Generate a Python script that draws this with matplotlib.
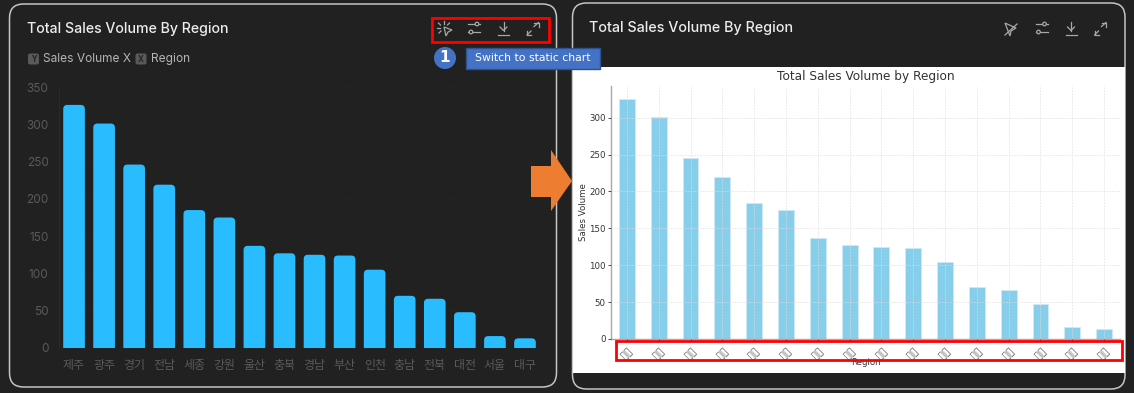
import matplotlib
matplotlib.use("Agg")
import matplotlib.pyplot as plt
from matplotlib.patches import FancyBboxPatch, Rectangle, Polygon, Circle

regions = ["제주", "광주", "경기", "전남", "세종", "강원", "울산", "충북",
           "경남", "부산", "인천", "충남", "전북", "대전", "서울", "대구"]
# the static chart really shows empty boxes instead of the region names
box_labels = ["▯▯"] * 16
sales = [326, 301, 246, 219, 185, 175, 137, 127, 125, 124, 105, 70, 66, 48, 16, 13]
left_ticks = [0, 50, 100, 150, 200, 250, 300, 350]
right_ticks = [0, 50, 100, 150, 200, 250, 300]

W, H = 1134, 393
fig = plt.figure(figsize=(W / 100, H / 100), dpi=100, facecolor="#212121")


def px_axes(x0, y0, x1, y1, **kw):
    # axes box given in picture pixels
    return fig.add_axes([x0 / W, 1 - y1 / H, (x1 - x0) / W, (y1 - y0) / H], **kw)


# background layer, pixel coordinates
bg = px_axes(0, 0, W, H, zorder=0)
bg.set_xlim(0, W)
bg.set_ylim(H, 0)
bg.axis("off")

for x0, y0, x1, y1 in [(9.5, 4, 556.5, 387), (572.5, 3, 1125, 389)]:
    bg.add_patch(FancyBboxPatch((x0, y0), x1 - x0, y1 - y0, boxstyle="round,pad=0,rounding_size=14",
                                fc="#212121", ec="#c4c4c4", lw=1.1))
bg.add_patch(Rectangle((573, 67), 551.5, 306, fc="white", ec="none"))

bg.text(27, 29, "Total Sales Volume By Region", color="#ececec", fontsize=10.2,
        family="Inter", weight="medium", va="center")
bg.text(589, 28, "Total Sales Volume By Region", color="#ececec", fontsize=10.3,
        family="Inter", weight="medium", va="center")

# Y / X chips under the title
for cx, letter in [(33.5, "Y"), (141, "X")]:
    bg.add_patch(FancyBboxPatch((cx - 5.5, 53.5), 11, 11, boxstyle="round,pad=0,rounding_size=2", fc="#5a5a5a", ec="none"))
    bg.text(cx, 59, letter, color="#2a2a2a", fontsize=5.5, weight="bold", ha="center", va="center")
bg.text(43, 59, "Sales Volume X", color="#b4b4b4", fontsize=8.6, family="Inter", va="center")
bg.text(151.5, 59, "Region", color="#b4b4b4", fontsize=8.6, family="Inter", va="center")

# toolbar icons, both panels
icon = "#a8a8a8"
for ox in [0, 567.5]:
    # sliders
    bg.plot([468 + ox, 480 + ox], [24, 24], color=icon, lw=0.9)
    bg.plot([468 + ox, 480 + ox], [32, 32], color=icon, lw=0.9)
    bg.add_patch(Circle((477 + ox, 24), 1.8, fc="#212121", ec=icon, lw=0.9, zorder=3))
    bg.add_patch(Circle((471 + ox, 32), 1.8, fc="#212121", ec=icon, lw=0.9, zorder=3))
    # download
    bg.plot([503.5 + ox, 503.5 + ox], [22, 30.5], color=icon, lw=0.9)
    bg.plot([500 + ox, 503.5 + ox, 507 + ox], [27, 30.5, 27], color=icon, lw=0.9)
    bg.plot([498 + ox, 509 + ox], [34.5, 34.5], color=icon, lw=0.9)
    # expand
    bg.plot([534 + ox, 538.5 + ox], [26.5, 22.5], color=icon, lw=0.9)
    bg.plot([534 + ox, 538.5 + ox, 538.5 + ox], [22.5, 22.5, 27], color=icon, lw=0.9)
    bg.plot([527 + ox, 531 + ox], [35, 31], color=icon, lw=0.9)
    bg.plot([527 + ox, 527 + ox, 531 + ox], [30.5, 35, 35], color=icon, lw=0.9)
# spark + pointer, left panel
for a, b, c, d in [(444, 21, 444, 24), (438.5, 23, 440.5, 25), (437, 28, 440, 28), (439, 33, 441, 31), (449.5, 23, 447.5, 25)]:
    bg.plot([a, c], [b, d], color=icon, lw=0.9)
bg.add_patch(Polygon([(444, 27), (452, 30), (448, 32), (446, 36)], fc="none", ec=icon, lw=0.9))
# crossed pointer, right panel
bg.add_patch(Polygon([(1005, 23), (1016, 28), (1011, 31), (1010, 36)], fc="none", ec=icon, lw=0.9))
bg.plot([1005, 1017], [35, 24], color=icon, lw=0.9)

# interactive chart (left)
ax1 = px_axes(59, 87, 540, 348, zorder=1)
ax1.patch.set_alpha(0)
bars = ax1.bar(range(len(regions)), sales, width=0.72, color="#29bcff")
ax1.set_xlim(-0.5, 15.5)
ax1.set_ylim(0, 350)
# rounded tops: swap every bar for a rounded box of the same size
for b in list(bars):
    x, w, h = b.get_x(), b.get_width(), b.get_height()
    b.set_visible(False)
    ax1.add_patch(FancyBboxPatch((x, -15), w, h + 15, boxstyle="round,pad=0,rounding_size=0.14",
                                 mutation_aspect=40, fc="#29bcff", ec="none"))
ax1.set_yticks(left_ticks)
ax1.set_xticks(range(len(regions)))
ax1.set_xticklabels(regions, family="Noto Sans CJK KR")
ax1.tick_params(axis="both", length=0, colors="#5a5a5a")
ax1.tick_params(axis="x", pad=8, labelsize=8.6)
ax1.tick_params(axis="y", pad=7.5, labelsize=8.5)
for t in ax1.get_yticklabels():
    t.set_family("Inter")
ax1.yaxis.grid(True, color="#272727", lw=0.6, ls=":")
ax1.set_axisbelow(True)
for s in ["top", "right", "bottom"]:
    ax1.spines[s].set_visible(False)
ax1.spines["left"].set_color("#2a2a2a")

# static chart (right)
ax2 = px_axes(611, 86, 1120, 339, zorder=1)
ax2.patch.set_alpha(0)
ax2.bar(range(len(regions)), sales, width=0.5, color="skyblue", edgecolor="#cfeaf6", linewidth=0.6)
ax2.set_xlim(-0.5, 15.5)
ax2.set_ylim(0, 343)
ax2.set_yticks(right_ticks)
ax2.set_xticks(range(len(regions)))
ax2.set_xticklabels(box_labels, rotation=45, family="DejaVu Sans", fontsize=8.5, color="#666666")
ax2.tick_params(axis="both", length=2, width=0.6, pad=1, color="#333333")
ax2.tick_params(axis="y", labelsize=6.2, labelcolor="#333333", pad=2)
ax2.set_xlabel("Region", fontsize=6.2, color="#333333", labelpad=-2.5)
ax2.set_ylabel("Sales Volume", fontsize=6.2, color="#333333", labelpad=0.5)
ax2.set_title("Total Sales Volume by Region", fontsize=8.7, color="#333333", pad=4)
ax2.grid(True, color="#dddddd", lw=0.4, ls="--")
ax2.set_axisbelow(False)
for s in ["top", "right"]:
    ax2.spines[s].set_visible(False)
for s in ["left", "bottom"]:
    ax2.spines[s].set_color("#a8a8a8")
    ax2.spines[s].set_linewidth(1)

# annotations on top
top = px_axes(0, 0, W, H, zorder=5)
top.set_xlim(0, W)
top.set_ylim(H, 0)
top.axis("off")
top.patch.set_alpha(0)
top.add_patch(Rectangle((432, 17.5), 117, 24, fc="none", ec="#ff0000", lw=2))
top.add_patch(Rectangle((616, 341), 506, 18.5, fc="none", ec="#ff0000", lw=2))
top.add_patch(Circle((445, 58), 11, fc="#4472c4", ec="none"))
top.text(445, 58, "1", color="white", fontsize=11, weight="bold", ha="center", va="center")
top.add_patch(Rectangle((466, 47.5), 133.5, 21, fc="#4472c4", ec="#2f528f", lw=1))
top.text(532.5, 58, "Switch to static chart", color="white", fontsize=7.8, ha="center", va="center")
top.add_patch(Polygon([(531, 166), (551, 166), (551, 150), (572, 181), (551, 211), (551, 197), (531, 197)],
                      fc="#ed7d31", ec="none"))

fig.savefig("out.png", dpi=100, facecolor=fig.get_facecolor())
